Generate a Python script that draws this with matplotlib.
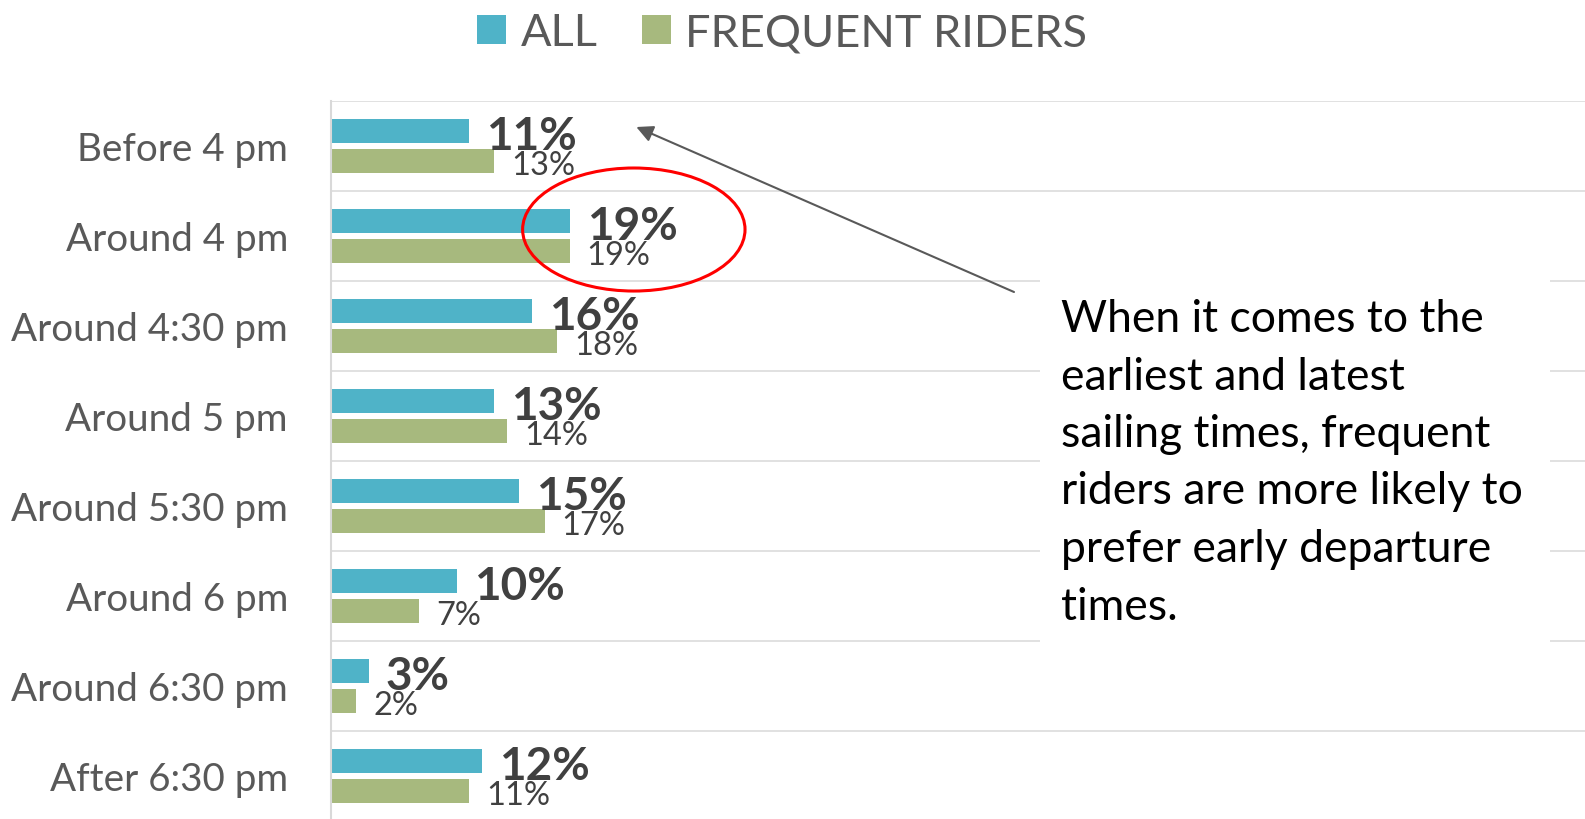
import matplotlib
matplotlib.use("Agg")
import matplotlib.pyplot as plt
from matplotlib.patches import Ellipse, Rectangle, Patch
import numpy as np

plt.rcParams['font.family'] = ['Lato', 'DejaVu Sans']

categories = ['Before 4 pm', 'Around 4 pm', 'Around 4:30 pm', 'Around 5 pm',
              'Around 5:30 pm', 'Around 6 pm', 'Around 6:30 pm', 'After 6:30 pm']
all_riders = [11, 19, 16, 13, 15, 10, 3, 12]
frequent = [13, 19, 18, 14, 17, 7, 2, 11]
note = ("When it comes to the\nearliest and latest\nsailing times, frequent\n"
        "riders are more likely to\nprefer early departure\ntimes.")

c_all = '#4FB3C8'
c_freq = '#A7B97E'
grey = '#595959'
dark = '#404040'
grid = '#D9D9D9'

W, H = 1585, 820
fig = plt.figure(figsize=(W / 100, H / 100), dpi=100)
ax = fig.add_axes([331 / W, 1 - 822 / H, 1 - 331 / W, 720 / H])

y = np.arange(len(categories))
off = 0.167
bh = 0.26
ax.barh(y - off, all_riders, height=bh, color=c_all, zorder=2)
ax.barh(y + off, frequent, height=bh, color=c_freq, zorder=2)

for i in range(len(categories)):
    ax.annotate(f'{all_riders[i]}%', (all_riders[i], y[i] - off), xytext=(17, -5),
                textcoords='offset pixels', va='center', ha='left',
                fontsize=33, fontweight='bold', color=dark, zorder=4)
    ax.annotate(f'{frequent[i]}%', (frequent[i], y[i] + off), xytext=(17, -4),
                textcoords='offset pixels', va='center', ha='left',
                fontsize=23.5, color=dark, zorder=3)

ax.set_xlim(0, 99.8)
ax.set_ylim(len(categories) - 0.5, -0.5)
ax.set_yticks(y)
ax.set_yticklabels(categories, fontsize=27.8, color=grey)
ax.tick_params(axis='y', length=0, pad=31)
ax.set_xticks([])
ax.set_yticks(np.arange(-0.5, len(categories), 1), minor=True)
ax.tick_params(axis='y', which='minor', length=0)
ax.grid(axis='y', which='minor', color=grid, lw=1.1, zorder=0)
for s in ['top', 'right', 'bottom']:
    ax.spines[s].set_visible(False)
ax.spines['left'].set_color(grid)
ax.spines['left'].set_linewidth(1.5)
ax.spines['left'].set_zorder(3)

# red ellipse around the 4 pm values
ax.add_patch(Ellipse((24.1, 0.928), 17.7, 1.367, fill=False, edgecolor='#FF0000',
                     lw=2.2, zorder=5, clip_on=False))

# note box
fig.patches.append(Rectangle((1040 / W, 1 - 652 / H), 510 / W, 382 / H,
                             transform=fig.transFigure, facecolor='white',
                             edgecolor='none', zorder=1))
fig.text(1061 / W, 1 - 299 / H, note, ha='left', va='top', fontsize=32,
         color='black', linespacing=1.5, zorder=2)

arrow = dict(arrowstyle='-|>', color=grey, lw=1.5, mutation_scale=25,
             shrinkA=0, shrinkB=0)
ax.annotate('', xy=(24.3, -0.211), xycoords='data',
            xytext=(1014 / W, 1 - 293 / H), textcoords='figure fraction',
            arrowprops=arrow, zorder=6)
ax.annotate('', xy=(22.9, 7.52), xycoords='data',
            xytext=(1036 / W, 1 - 523 / H), textcoords='figure fraction',
            arrowprops=arrow, zorder=6)

handles = [Patch(facecolor=c_all, label='ALL'),
           Patch(facecolor=c_freq, label='FREQUENT RIDERS')]
fig.legend(handles=handles, loc='center', bbox_to_anchor=(782 / W, 1 - 34 / H),
           ncol=2, frameon=False, fontsize=32.5, labelcolor=grey,
           handlelength=0.66, handleheight=0.63, handletextpad=0.31,
           columnspacing=0.98, borderaxespad=0)

fig.savefig('out.png', dpi=100)
